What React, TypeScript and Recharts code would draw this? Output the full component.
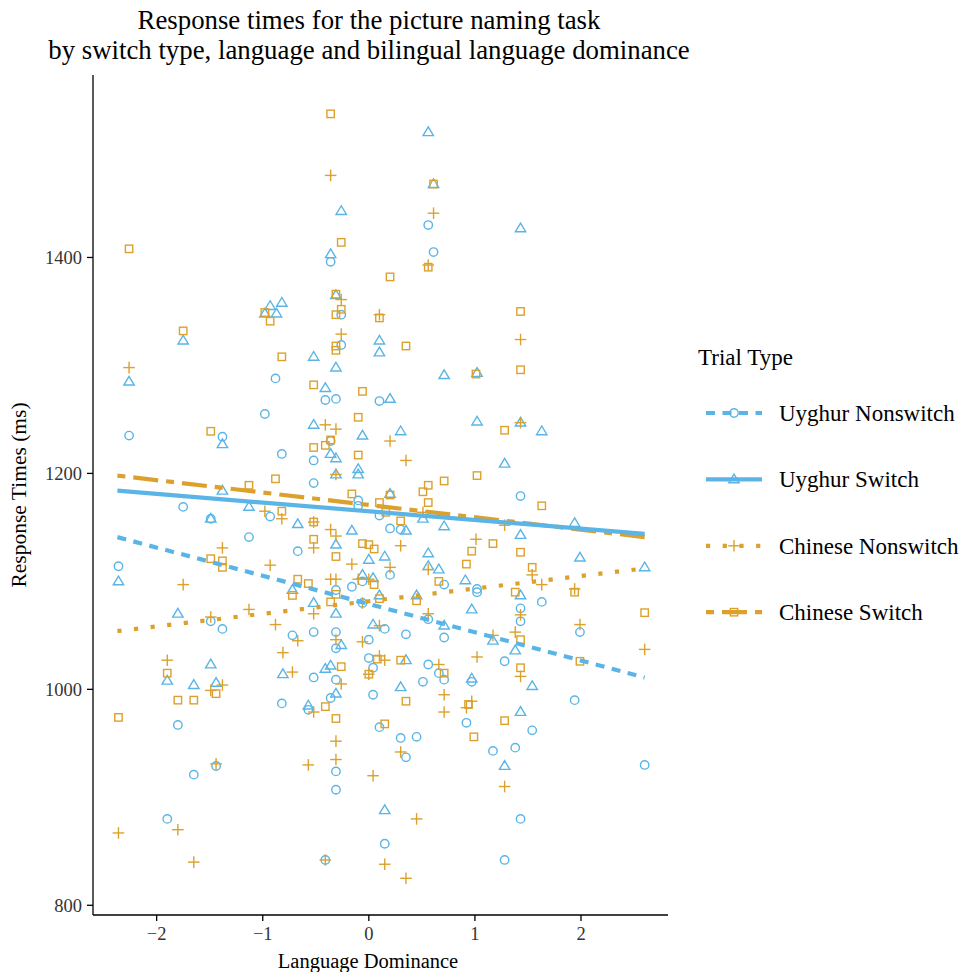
import React from 'react';
import { ScatterChart, Scatter, XAxis, YAxis } from 'recharts';

const BLUE = '#5AB5E6';
const ORANGE = '#DCA12C';
const SERIF = '"Liberation Serif", "DejaVu Serif", serif';

type Pt = { x: number; y: number };
const toPts = (rows: number[][]): Pt[] => rows.map(([x, y]) => ({ x, y }));

// language dominance (x) vs response time in ms (y)
const uyghurNonswitch = toPts([
  [-2.36, 1114], [-2.26, 1235], [-1.75, 1169], [-1.49, 1158], [-1.38, 1234], [-1.13, 1141],
  [-0.98, 1255], [-0.93, 1160], [-0.88, 1288], [-0.82, 1218], [-1.49, 1063], [-1.38, 1056],
  [-1.8, 967], [-1.65, 921], [-1.44, 929], [-1.9, 880], [-0.82, 987], [-0.72, 1050],
  [-0.67, 1128], [-0.52, 1212], [-0.52, 1191], [-0.52, 1053], [-0.52, 1011], [-0.57, 981],
  [-0.41, 1268], [-0.31, 1269], [-0.36, 1230], [-0.36, 1396], [-0.26, 1347], [-0.26, 1319],
  [-0.31, 1092], [-0.31, 1053], [-0.31, 1038], [-0.31, 1009], [-0.36, 992], [-0.31, 924],
  [-0.31, 907], [-0.41, 842], [-0.16, 1095], [-0.1, 1175], [-0.1, 1170], [-0.06, 1100],
  [-0.06, 1080], [0.0, 1046], [0.0, 1029], [0.04, 1020], [0.04, 995], [0.1, 1267],
  [0.1, 1161], [0.1, 965], [0.15, 1056], [0.15, 857], [0.2, 1149], [0.2, 1106],
  [0.3, 1148], [0.3, 955], [0.35, 1051], [0.35, 937], [0.45, 956], [0.51, 1007],
  [0.56, 1430], [0.56, 1065], [0.56, 1023], [0.61, 1405], [0.66, 1015], [0.71, 1097],
  [0.71, 1048], [0.71, 1009], [0.92, 969], [0.97, 1007], [1.02, 1093], [1.02, 1090],
  [1.17, 943], [1.28, 1026], [1.28, 842], [1.38, 946], [1.43, 1179], [1.43, 1075],
  [1.43, 1063], [1.43, 880], [1.54, 962], [1.63, 1081], [1.94, 990], [1.99, 1053],
  [2.6, 930],
]);

const uyghurSwitch = toPts([
  [-2.36, 1100], [-2.26, 1285], [-1.75, 1323], [-1.8, 1070], [-1.9, 1008], [-1.65, 1004],
  [-1.49, 1158], [-1.49, 1023], [-1.44, 1006], [-1.38, 1227], [-1.38, 1184], [-1.13, 1169],
  [-0.98, 1348], [-0.93, 1355], [-0.87, 1348], [-0.82, 1358], [-0.81, 1014], [-0.72, 1092],
  [-0.67, 1153], [-0.57, 985], [-0.52, 1308], [-0.52, 1245], [-0.52, 1080], [-0.41, 1279],
  [-0.41, 1019], [-0.36, 1403], [-0.36, 1218], [-0.36, 1022], [-0.31, 1365], [-0.31, 1298],
  [-0.31, 1214], [-0.31, 1199], [-0.31, 1134], [-0.31, 1070], [-0.31, 996], [-0.26, 1443],
  [-0.26, 1041], [-0.16, 1147], [-0.1, 1204], [-0.1, 1199], [-0.06, 1235], [-0.06, 1106],
  [0.0, 1120], [0.04, 1103], [0.04, 1060], [0.1, 1323], [0.1, 1312], [0.1, 1087],
  [0.15, 1123], [0.15, 888], [0.2, 1269], [0.2, 1181], [0.3, 1239], [0.3, 1002],
  [0.35, 1147], [0.35, 1027], [0.45, 1087], [0.51, 1158], [0.56, 1516], [0.56, 1126],
  [0.56, 1114], [0.61, 1468], [0.66, 1111], [0.71, 1291], [0.71, 1151], [0.71, 1059],
  [0.91, 1101], [0.97, 1074], [0.97, 1010], [1.02, 1293], [1.02, 1248], [1.17, 1045],
  [1.28, 1209], [1.28, 929], [1.38, 1036], [1.43, 1427], [1.43, 1247], [1.43, 1143],
  [1.43, 1087], [1.43, 979], [1.54, 1003], [1.63, 1239], [1.94, 1154], [1.99, 1122],
  [2.6, 1113],
]);

const chineseNonswitch = toPts([
  [-2.26, 1298], [-2.36, 867], [-1.9, 1027], [-1.8, 870], [-1.75, 1097], [-1.65, 840],
  [-1.49, 1067], [-1.49, 999], [-1.44, 931], [-1.38, 1131], [-1.38, 1004], [-1.13, 1074],
  [-0.98, 1165], [-0.93, 1115], [-0.88, 1060], [-0.82, 1158], [-0.81, 1034], [-0.72, 1016],
  [-0.67, 1045], [-0.57, 930], [-0.52, 1155], [-0.52, 1131], [-0.52, 1070], [-0.52, 979],
  [-0.41, 1245], [-0.41, 842], [-0.36, 1476], [-0.36, 1148], [-0.36, 1102], [-0.31, 1241],
  [-0.31, 1199], [-0.31, 1142], [-0.31, 1102], [-0.31, 1046], [-0.31, 952], [-0.31, 935],
  [-0.26, 1361], [-0.26, 1329], [-0.26, 1005], [-0.16, 1116], [-0.1, 1102], [-0.06, 1080],
  [-0.06, 1044], [0.0, 1102], [0.0, 1014], [0.04, 920], [0.1, 1347], [0.1, 1059],
  [0.1, 1031], [0.15, 1027], [0.15, 838], [0.2, 1230], [0.2, 1113], [0.3, 1133],
  [0.3, 942], [0.35, 1212], [0.35, 825], [0.45, 880], [0.51, 1164], [0.56, 1393],
  [0.56, 1111], [0.56, 1070], [0.61, 1441], [0.66, 1023], [0.71, 995], [0.71, 979],
  [0.92, 983], [0.97, 989], [1.01, 1139], [1.02, 1030], [1.17, 1050], [1.28, 1152],
  [1.28, 910], [1.38, 1053], [1.43, 1324], [1.43, 1247], [1.43, 1069], [1.43, 1012],
  [1.54, 1106], [1.63, 1097], [1.94, 1093], [1.99, 1060], [2.6, 1037],
]);

const chineseSwitch = toPts([
  [-2.26, 1408], [-2.36, 974], [-1.9, 1015], [-1.8, 990], [-1.65, 990], [-1.75, 1332],
  [-1.49, 1239], [-1.49, 1121], [-1.44, 996], [-1.38, 1119], [-1.38, 1113], [-1.13, 1189],
  [-0.98, 1349], [-0.93, 1341], [-0.88, 1195], [-0.82, 1308], [-0.82, 1165], [-0.72, 1087],
  [-0.67, 1102], [-0.57, 1098], [-0.52, 1282], [-0.52, 1224], [-0.52, 1155], [-0.52, 1139],
  [-0.41, 1226], [-0.41, 984], [-0.36, 1533], [-0.36, 1231], [-0.36, 1081], [-0.31, 1366],
  [-0.31, 1347], [-0.31, 1318], [-0.31, 1314], [-0.31, 1123], [-0.31, 1088], [-0.31, 973],
  [-0.26, 1414], [-0.26, 1352], [-0.26, 1021], [-0.16, 1181], [-0.1, 1252], [-0.1, 1217],
  [-0.06, 1276], [-0.06, 1135], [0.0, 1134], [0.0, 1014], [0.05, 1130], [0.05, 1097],
  [0.08, 1028], [0.1, 1344], [0.1, 1173], [0.1, 1084], [0.15, 968], [0.16, 1164],
  [0.2, 1382], [0.2, 1180], [0.3, 1156], [0.3, 1027], [0.35, 1318], [0.35, 989],
  [0.45, 1082], [0.51, 1183], [0.56, 1391], [0.56, 1189], [0.56, 1173], [0.61, 1468],
  [0.66, 1100], [0.71, 1193], [0.71, 1015], [0.92, 1116], [0.94, 986], [0.97, 1128],
  [0.99, 956], [1.01, 1292], [1.02, 1198], [1.17, 1135], [1.28, 1240], [1.28, 971],
  [1.38, 1090], [1.43, 1350], [1.43, 1296], [1.43, 1127], [1.43, 1046], [1.43, 1020],
  [1.54, 1113], [1.63, 1170], [1.94, 1090], [1.99, 1026], [2.6, 1071],
]);

// linear fit endpoints
const uyghurNonswitchFit: Pt[] = [{ x: -2.37, y: 1141 }, { x: 2.6, y: 1011 }];
const uyghurSwitchFit: Pt[] = [{ x: -2.37, y: 1184 }, { x: 2.6, y: 1144 }];
const chineseNonswitchFit: Pt[] = [{ x: -2.37, y: 1054 }, { x: 2.6, y: 1112 }];
const chineseSwitchFit: Pt[] = [{ x: -2.37, y: 1198 }, { x: 2.6, y: 1141 }];

const xTicks = [-2, -1, 0, 1, 2];
const yTicks = [800, 1000, 1200, 1400];

const DASHED = '9 7.5';
const DOTTED = '4.2 12.5';
const TWODASH = '8 8 25 8';
const LW = 4.2;

type Marker = 'circle' | 'triangle' | 'plus' | 'square';

const drawMarker = (kind: Marker, cx: number, cy: number, color: string) => {
  const sw = 1.4;
  if (kind === 'circle') return <circle cx={cx} cy={cy} r={4.2} fill="none" stroke={color} strokeWidth={sw} />;
  if (kind === 'triangle')
    return (
      <polygon
        points={`${cx},${cy - 5.3} ${cx - 5.2},${cy + 3.4} ${cx + 5.2},${cy + 3.4}`}
        fill="none"
        stroke={color}
        strokeWidth={sw}
      />
    );
  if (kind === 'square')
    return <rect x={cx - 3.7} y={cy - 3.7} width={7.4} height={7.4} fill="none" stroke={color} strokeWidth={sw} />;
  return (
    <g stroke={color} strokeWidth={sw}>
      <line x1={cx - 5.8} y1={cy} x2={cx + 5.8} y2={cy} />
      <line x1={cx} y1={cy - 5.8} x2={cx} y2={cy + 5.8} />
    </g>
  );
};

const shapeOf = (kind: Marker, color: string) => (props: any) => drawMarker(kind, props.cx, props.cy, color);

const fmt = (v: number) => (v < 0 ? `\u2212${Math.abs(v)}` : `${v}`);

const legendRows = [
  { label: 'Uyghur Nonswitch', color: BLUE, dash: DASHED, marker: 'circle' as Marker },
  { label: 'Uyghur Switch', color: BLUE, dash: undefined, marker: 'triangle' as Marker },
  { label: 'Chinese Nonswitch', color: ORANGE, dash: DOTTED, marker: 'plus' as Marker },
  { label: 'Chinese Switch', color: ORANGE, dash: TWODASH, marker: 'square' as Marker },
];

const W = 953;
const H = 964;
const OV = 8; // overlay reaches up into the body margin so the title has room

const App: React.FC = () => {
  const tick = { fill: '#333', fontSize: 18.5, fontFamily: SERIF };
  const axisLine = { stroke: '#000', strokeWidth: 1.3 };
  return (
    <div style={{ position: 'relative', width: W, height: H }}>
      <ScatterChart width={W} height={H} margin={{ top: 67, right: 293, bottom: 17, left: 0 }}>
        <XAxis
          type="number"
          dataKey="x"
          domain={[-2.6, 2.82]}
          allowDataOverflow
          ticks={xTicks}
          tickFormatter={fmt}
          tick={tick}
          tickSize={6}
          tickMargin={6}
          height={40}
          axisLine={axisLine}
          tickLine={axisLine}
        />
        <YAxis
          type="number"
          dataKey="y"
          domain={[791, 1569]}
          allowDataOverflow
          ticks={yTicks}
          tick={tick}
          tickSize={6}
          tickMargin={5}
          width={85}
          axisLine={axisLine}
          tickLine={axisLine}
        />
        <Scatter data={uyghurNonswitch} shape={shapeOf('circle', BLUE)} isAnimationActive={false} />
        <Scatter data={uyghurSwitch} shape={shapeOf('triangle', BLUE)} isAnimationActive={false} />
        <Scatter data={chineseNonswitch} shape={shapeOf('plus', ORANGE)} isAnimationActive={false} />
        <Scatter data={chineseSwitch} shape={shapeOf('square', ORANGE)} isAnimationActive={false} />
        <Scatter
          data={chineseSwitchFit}
          line={{ stroke: ORANGE, strokeWidth: LW, strokeDasharray: TWODASH }}
          shape={() => <g />}
          isAnimationActive={false}
        />
        <Scatter
          data={chineseNonswitchFit}
          line={{ stroke: ORANGE, strokeWidth: LW, strokeDasharray: DOTTED }}
          shape={() => <g />}
          isAnimationActive={false}
        />
        <Scatter
          data={uyghurNonswitchFit}
          line={{ stroke: BLUE, strokeWidth: LW, strokeDasharray: DASHED }}
          shape={() => <g />}
          isAnimationActive={false}
        />
        <Scatter
          data={uyghurSwitchFit}
          line={{ stroke: BLUE, strokeWidth: LW }}
          shape={() => <g />}
          isAnimationActive={false}
        />
      </ScatterChart>
      <svg
        width={W}
        height={H + OV}
        style={{ position: 'absolute', left: 0, top: -OV, pointerEvents: 'none' }}
        fontFamily={SERIF}
      >
        <g transform={`translate(0, ${OV})`}>
          <text x={361} y={21} textAnchor="middle" fontSize={26.8} fill="#000">
            Response times for the picture naming task
          </text>
          <text x={361} y={51} textAnchor="middle" fontSize={26.8} fill="#000">
            by switch type, language and bilingual language dominance
          </text>
          <text x={360} y={960} textAnchor="middle" fontSize={20.5} fill="#000">
            Language Dominance
          </text>
          <text x={18} y={487} textAnchor="middle" fontSize={21.5} fill="#000" transform="rotate(-90, 18, 487)">
            Response Times (ms)
          </text>
          <text x={690} y={357} fontSize={23} fill="#000">
            Trial Type
          </text>
          {legendRows.map((r, i) => {
            const cy = 405 + i * 66.4;
            return (
              <g key={r.label}>
                <line x1={698} x2={754} y1={cy} y2={cy} stroke={r.color} strokeWidth={LW} strokeDasharray={r.dash} />
                {drawMarker(r.marker, 726, cy, r.color)}
                <text x={771} y={cy + 8} fontSize={23} fill="#000">
                  {r.label}
                </text>
              </g>
            );
          })}
        </g>
      </svg>
    </div>
  );
};

export default App;
